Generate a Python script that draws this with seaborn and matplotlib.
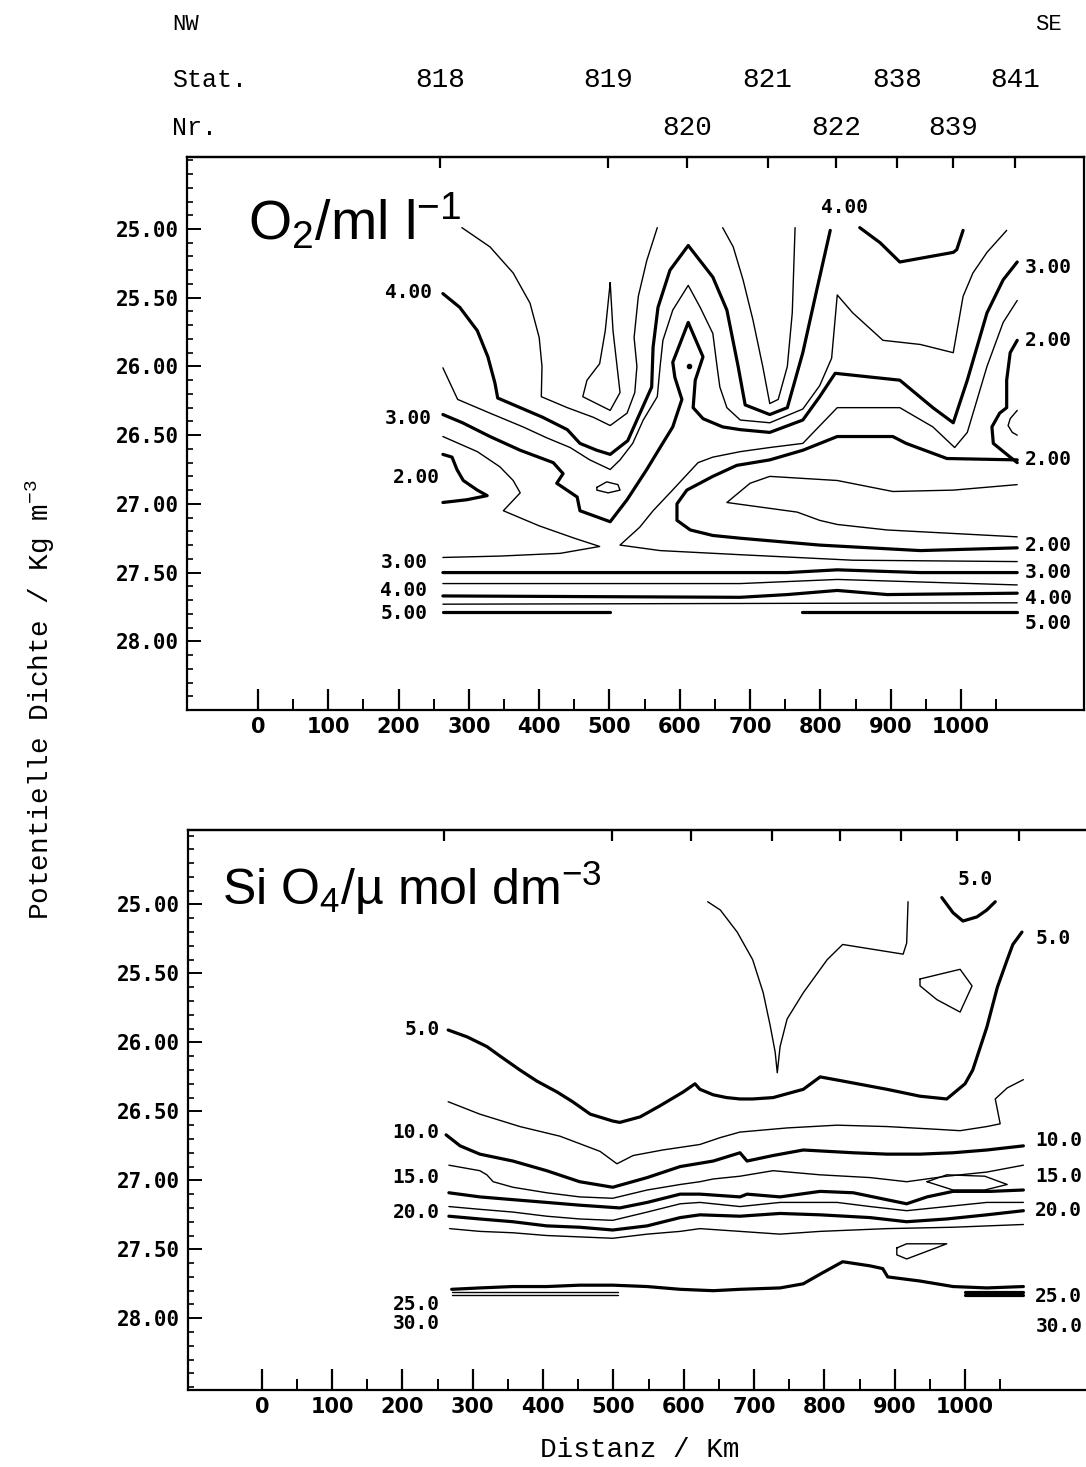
import matplotlib
matplotlib.use("Agg")
import matplotlib.pyplot as plt
import matplotlib.transforms as mtransforms
from matplotlib.ticker import MultipleLocator, FixedLocator
import seaborn as sns

sns.set_style("ticks")
plt.rcParams["font.family"] = ["DejaVu Sans"]
plt.rcParams["text.color"] = "black"
plt.rcParams["mathtext.fontset"] = "custom"
plt.rcParams["mathtext.rm"] = "Liberation Sans"
plt.rcParams["mathtext.default"] = "regular"

# stations along the section (km)
stat_km = [259, 498, 610, 725, 822, 909, 989, 1077]
stat_row = ["818", "819", "", "821", "", "838", "", "841"]
nr_row = ["", "", "820", "", "822", "", "839", ""]

x_ticks = [0, 100, 200, 300, 400, 500, 600, 700, 800, 900, 1000]
y_ticks = [25.0, 25.5, 26.0, 26.5, 27.0, 27.5, 28.0]

# ---- O2 section: contour lines (km, sigma) ----
o2_a_km = [290, 330, 363, 387, 400, 404, 403, 440, 477, 501, 525, 536, 539, 535, 541, 553, 568]
o2_a_sig = [24.99, 25.13, 25.32, 25.54, 25.79, 26.00, 26.22, 26.30, 26.37, 26.43, 26.34, 26.19, 26.00, 25.79, 25.49, 25.23, 24.99]

o2_4_km = [263, 287, 312, 327, 337, 341, 373, 405, 440, 458, 482, 501, 526, 539, 560, 562, 569, 586, 612,
           647, 667, 683, 693, 728, 753, 775, 795, 814]
o2_4_sig = [25.47, 25.57, 25.74, 25.93, 26.12, 26.23, 26.30, 26.37, 26.46, 26.56, 26.61, 26.64, 26.54, 26.39, 26.15,
            25.86, 25.57, 25.30, 25.12, 25.35, 25.59, 26.00, 26.28, 26.35, 26.30, 25.90, 25.44, 25.01]

o2_tri_km = [501, 505, 515, 501, 462, 468, 486, 494, 501]
o2_tri_sig = [25.39, 25.74, 26.19, 26.32, 26.22, 26.10, 25.98, 25.74, 25.39]

o2_v_km = [661, 676, 690, 704, 718, 728, 740, 753, 760, 764]
o2_v_sig = [24.99, 25.13, 25.37, 25.66, 26.00, 26.27, 26.24, 26.00, 25.61, 24.99]

o2_35_km = [263, 284, 330, 377, 411, 444, 472, 501, 515, 533, 548, 568, 572, 576, 590, 612, 629, 647, 653, 657,
            667, 686, 728, 775, 799, 816, 824, 846, 889, 942, 989, 1003, 1017, 1037, 1065]
o2_35_sig = [26.01, 26.24, 26.34, 26.44, 26.52, 26.59, 26.68, 26.75, 26.68, 26.56, 26.39, 26.22, 26.00, 25.81,
             25.59, 25.41, 25.57, 25.76, 26.00, 26.15, 26.30, 26.39, 26.41, 26.31, 26.14, 25.94, 25.48, 25.61,
             25.81, 25.84, 25.90, 25.49, 25.32, 25.17, 25.01]

o2_3_km = [263, 291, 330, 373, 420, 434, 425, 454, 458, 501, 525, 553, 572, 590, 603, 593, 590, 612, 633, 622,
           619, 633, 661, 686, 728, 775, 799, 821, 913, 960, 989, 1009, 1037, 1060, 1080]
o2_3_sig = [26.35, 26.41, 26.51, 26.61, 26.70, 26.78, 26.85, 26.95, 27.05, 27.13, 26.97, 26.75, 26.59, 26.44,
            26.24, 26.08, 25.97, 25.68, 25.93, 26.10, 26.30, 26.38, 26.44, 26.46, 26.48, 26.39, 26.22, 26.05,
            26.10, 26.30, 26.41, 26.10, 25.61, 25.37, 25.24]

# 2.50 line, right part (through the saddle near 600 km)
o2_25_km = [1080, 1060, 1037, 1009, 991, 960, 913, 824, 775, 728, 686, 647, 626, 586, 562, 543, 515, 572,
            686, 846, 1080]
o2_25_sig = [25.52, 25.68, 26.00, 26.48, 26.59, 26.44, 26.30, 26.30, 26.56, 26.59, 26.62, 26.66, 26.70, 26.92,
             27.05, 27.17, 27.30, 27.34, 27.37, 27.41, 27.42]

# 2.50 line, left part
o2_zig_km = [263, 312, 344, 363, 373, 349, 400, 450, 486, 430, 344, 263]
o2_zig_sig = [26.51, 26.62, 26.73, 26.83, 26.92, 27.05, 27.16, 27.25, 27.31, 27.36, 27.38, 27.39]

o2_2l_km = [263, 276, 283, 292, 312, 326, 297, 263]
o2_2l_sig = [26.64, 26.66, 26.75, 26.83, 26.90, 26.94, 26.97, 26.99]

o2_oval_km = [482, 496, 512, 515, 498, 482, 482]
o2_oval_sig = [26.88, 26.84, 26.86, 26.90, 26.92, 26.90, 26.88]

o2_2c_km = [1080, 980, 922, 903, 824, 775, 728, 681, 647, 610, 596, 596, 615, 647, 686, 799, 942, 1080]
o2_2c_sig = [26.68, 26.67, 26.56, 26.51, 26.51, 26.61, 26.68, 26.72, 26.80, 26.90, 27.00, 27.12, 27.19, 27.23,
             27.25, 27.30, 27.34, 27.32]

o2_lens_km = [1080, 989, 903, 824, 728, 700, 667, 767, 799, 824, 895, 1080]
o2_lens_sig = [26.86, 26.90, 26.91, 26.83, 26.80, 26.85, 26.99, 27.06, 27.12, 27.15, 27.19, 27.24]

o2_2r_km = [1080, 1070, 1065, 1065, 1055, 1044, 1046, 1070, 1080]
o2_2r_sig = [25.81, 25.90, 26.10, 26.30, 26.34, 26.44, 26.56, 26.66, 26.70]

o2_hook_km = [1080, 1070, 1067, 1073, 1080]
o2_hook_sig = [26.32, 26.38, 26.43, 26.48, 26.50]

o2_4top_km = [856, 885, 913, 989, 994, 1003]
o2_4top_sig = [24.99, 25.10, 25.24, 25.17, 25.15, 25.01]

o2_h2_km = [263, 486, 686, 753, 824, 942, 1080]
o2_h2_sig = [27.50, 27.50, 27.50, 27.50, 27.48, 27.50, 27.50]
o2_h3_km = [263, 686, 824, 1080]
o2_h3_sig = [27.58, 27.58, 27.55, 27.59]
o2_h4_km = [263, 686, 753, 824, 895, 1080]
o2_h4_sig = [27.67, 27.68, 27.66, 27.63, 27.66, 27.65]
o2_h5_km = [263, 1080]
o2_h5_sig = [27.73, 27.72]
o2_h6a_km = [263, 501]
o2_h6a_sig = [27.79, 27.79]
o2_h6b_km = [774, 824, 1080]
o2_h6b_sig = [27.79, 27.79, 27.79]

# ---- SiO4 section ----
si_5_km = [265, 292, 320, 339, 367, 391, 420, 442, 467, 499, 509, 538, 566, 599, 616, 623, 642, 661, 680,
           698, 727, 770, 794, 826, 889, 936, 974, 1000, 1011, 1031, 1046, 1060, 1068, 1081]
si_5_sig = [25.91, 25.96, 26.03, 26.10, 26.20, 26.28, 26.36, 26.43, 26.52, 26.57, 26.58, 26.54, 26.46, 26.36,
            26.30, 26.34, 26.38, 26.40, 26.41, 26.41, 26.40, 26.34, 26.25, 26.28, 26.34, 26.39, 26.41, 26.30,
            26.20, 25.89, 25.60, 25.40, 25.29, 25.20]

si_75_km = [265, 310, 367, 424, 481, 505, 528, 570, 623, 652, 680, 747, 818, 889, 960, 993, 1031, 1050,
            1043, 1060, 1083]
si_75_sig = [26.43, 26.52, 26.61, 26.68, 26.79, 26.88, 26.82, 26.78, 26.74, 26.69, 26.65, 26.62, 26.60, 26.61,
             26.63, 26.64, 26.61, 26.59, 26.41, 26.33, 26.27]

si_10_km = [262, 282, 310, 357, 405, 452, 499, 548, 595, 642, 680, 690, 727, 770, 841, 889, 936, 983, 1031, 1083]
si_10_sig = [26.67, 26.75, 26.81, 26.86, 26.93, 27.01, 27.05, 26.98, 26.90, 26.86, 26.80, 26.86, 26.82, 26.78,
             26.80, 26.81, 26.81, 26.80, 26.78, 26.75]

si_125_km = [266, 310, 320, 329, 357, 405, 452, 499, 548, 595, 623, 642, 680, 727, 794, 865, 917, 974, 1031, 1083]
si_125_sig = [26.89, 26.93, 26.96, 27.01, 27.05, 27.09, 27.12, 27.13, 27.07, 27.03, 27.01, 26.99, 26.97, 26.93,
              26.96, 26.98, 27.01, 26.97, 26.94, 26.89]

si_15_km = [266, 310, 357, 405, 452, 509, 548, 595, 623, 680, 690, 737, 794, 841, 917, 946, 983, 1036, 1083]
si_15_sig = [27.09, 27.12, 27.14, 27.16, 27.18, 27.20, 27.16, 27.10, 27.10, 27.12, 27.10, 27.12, 27.08, 27.09,
             27.17, 27.12, 27.08, 27.08, 27.07]

si_lens_km = [946, 974, 1028, 1060, 1028, 983, 946]
si_lens_sig = [27.01, 26.96, 26.97, 27.03, 27.07, 27.07, 27.01]

si_175_km = [266, 310, 357, 405, 452, 499, 548, 595, 623, 680, 737, 818, 865, 917, 974, 1031, 1083]
si_175_sig = [27.19, 27.21, 27.23, 27.26, 27.28, 27.29, 27.23, 27.17, 27.16, 27.19, 27.16, 27.16, 27.19, 27.22,
              27.19, 27.16, 27.16]

si_20_km = [266, 310, 357, 405, 452, 499, 548, 595, 623, 680, 737, 794, 865, 917, 974, 1031, 1083]
si_20_sig = [27.26, 27.28, 27.30, 27.33, 27.34, 27.36, 27.33, 27.27, 27.25, 27.26, 27.24, 27.25, 27.27, 27.30,
             27.28, 27.25, 27.22]

si_225_km = [267, 310, 357, 405, 452, 499, 548, 595, 623, 680, 737, 794, 889, 983, 1083]
si_225_sig = [27.35, 27.37, 27.38, 27.40, 27.41, 27.42, 27.39, 27.37, 27.35, 27.37, 27.39, 27.37, 27.35, 27.34,
              27.32]

si_blob_km = [903, 917, 974, 917, 903, 903]
si_blob_sig = [27.49, 27.46, 27.46, 27.57, 27.54, 27.49]

si_25_km = [270, 310, 357, 405, 452, 499, 548, 595, 642, 680, 737, 770, 794, 826, 865, 883, 890, 936, 983,
            1031, 1083]
si_25_sig = [27.79, 27.78, 27.77, 27.77, 27.76, 27.76, 27.77, 27.79, 27.80, 27.79, 27.78, 27.75, 27.68, 27.59,
             27.62, 27.64, 27.70, 27.73, 27.77, 27.78, 27.77]

si_30a_km = [270, 506]
si_30a_sig = [27.81, 27.81]
si_30b_km = [270, 506]
si_30b_sig = [27.83, 27.83]
si_30c_km = [1000, 1083]
si_30c_sig = [27.81, 27.81]
si_30d_km = [1000, 1083]
si_30d_sig = [27.83, 27.83]

si_cusp_km = [634, 652, 676, 698, 713, 723, 730, 733, 737, 747, 770, 804, 826, 912, 917, 919]
si_cusp_sig = [24.98, 25.04, 25.20, 25.40, 25.64, 25.88, 26.07, 26.22, 26.03, 25.83, 25.64, 25.40, 25.29, 25.36,
               25.28, 24.98]

si_5top_km = [967, 983, 997, 1017, 1031, 1043]
si_5top_sig = [24.95, 25.06, 25.12, 25.09, 25.04, 24.98]

si_pent_km = [936, 993, 1010, 993, 960, 936, 936]
si_pent_sig = [25.54, 25.47, 25.59, 25.78, 25.69, 25.59, 25.54]

THICK, THIN = 2.3, 1.0

o2_lines = [
    (o2_a_km, o2_a_sig, THIN), (o2_4_km, o2_4_sig, THICK), (o2_tri_km, o2_tri_sig, THIN),
    (o2_v_km, o2_v_sig, THIN), (o2_35_km, o2_35_sig, THIN), (o2_3_km, o2_3_sig, THICK),
    (o2_25_km, o2_25_sig, THIN), (o2_zig_km, o2_zig_sig, THIN), (o2_2l_km, o2_2l_sig, THICK),
    (o2_oval_km, o2_oval_sig, THIN), (o2_2c_km, o2_2c_sig, THICK), (o2_lens_km, o2_lens_sig, THIN),
    (o2_2r_km, o2_2r_sig, THICK), (o2_hook_km, o2_hook_sig, THIN), (o2_4top_km, o2_4top_sig, THICK),
    (o2_h2_km, o2_h2_sig, THICK), (o2_h3_km, o2_h3_sig, THIN),
    (o2_h4_km, o2_h4_sig, THICK), (o2_h5_km, o2_h5_sig, THIN), (o2_h6a_km, o2_h6a_sig, THICK),
    (o2_h6b_km, o2_h6b_sig, THICK),
]
si_lines = [
    (si_5_km, si_5_sig, THICK), (si_75_km, si_75_sig, THIN), (si_10_km, si_10_sig, THICK),
    (si_125_km, si_125_sig, THIN), (si_15_km, si_15_sig, THICK), (si_lens_km, si_lens_sig, THIN),
    (si_175_km, si_175_sig, THIN), (si_20_km, si_20_sig, THICK), (si_225_km, si_225_sig, THIN),
    (si_blob_km, si_blob_sig, THIN), (si_25_km, si_25_sig, THICK), (si_30a_km, si_30a_sig, THIN),
    (si_30b_km, si_30b_sig, THIN), (si_30c_km, si_30c_sig, THICK), (si_30d_km, si_30d_sig, THICK),
    (si_cusp_km, si_cusp_sig, THIN), (si_5top_km, si_5top_sig, THICK), (si_pent_km, si_pent_sig, THIN),
]

# label text, km, sigma, alignment
o2_labels = [("4.00", 247, 25.46, "right"), ("3.00", 247, 26.38, "right"), ("2.00", 259, 26.81, "right"),
             ("3.00", 241, 27.43, "right"), ("4.00", 241, 27.63, "right"), ("5.00", 241, 27.80, "right"),
             ("4.00", 835, 24.84, "center"), ("3.00", 1091, 25.28, "left"), ("2.00", 1091, 25.81, "left"),
             ("2.00", 1091, 26.68, "left"), ("2.00", 1091, 27.30, "left"), ("3.00", 1091, 27.50, "left"),
             ("4.00", 1091, 27.69, "left"), ("5.00", 1091, 27.87, "left")]
si_labels = [("5.0", 253, 25.91, "right"), ("10.0", 253, 26.65, "right"), ("15.0", 253, 26.98, "right"),
             ("20.0", 253, 27.23, "right"), ("25.0", 253, 27.90, "right"), ("30.0", 253, 28.04, "right"),
             ("5.0", 1014, 24.82, "center"), ("5.0", 1100, 25.25, "left"), ("10.0", 1100, 26.71, "left"),
             ("15.0", 1100, 26.97, "left"), ("20.0", 1100, 27.22, "left"), ("25.0", 1100, 27.84, "left"),
             ("30.0", 1100, 28.06, "left")]

W, H = 1086, 1467
fig = plt.figure(figsize=(W / 100, H / 100), dpi=100)
ax1 = fig.add_axes([187 / W, 1 - 710 / H, 897 / W, 553 / H])
ax2 = fig.add_axes([188 / W, 1 - 1390 / H, 905 / W, 560 / H])

mono = ["DejaVu Sans Mono"]
narrow = ["Liberation Sans Narrow", "DejaVu Sans"]
typew = ["Liberation Mono", "DejaVu Sans Mono"]


def setup(ax, xlim, ylim):
    ax.set_xlim(*xlim)
    ax.set_ylim(*ylim)
    ax.xaxis.set_major_locator(FixedLocator(x_ticks))
    ax.xaxis.set_minor_locator(FixedLocator([v + 50 for v in x_ticks]))
    ax.yaxis.set_major_locator(FixedLocator(y_ticks))
    ax.yaxis.set_minor_locator(MultipleLocator(0.1))
    ax.set_yticklabels([f"{v:.2f}" for v in y_ticks], family=mono, fontsize=15, weight="bold")
    ax.set_xticklabels([str(v) for v in x_ticks], family=narrow, fontsize=15, weight="bold")
    ax.tick_params(axis="x", which="major", direction="in", length=15, width=1.6, pad=5, colors="black")
    ax.tick_params(axis="x", which="minor", direction="in", length=8, width=1.4, colors="black")
    ax.tick_params(axis="y", which="major", direction="in", length=10, width=1.4, pad=6, colors="black")
    ax.tick_params(axis="y", which="minor", direction="in", length=4, width=1.2, colors="black")
    for s in ax.spines.values():
        s.set_linewidth(1.6)
        s.set_color("black")
    top = ax.secondary_xaxis("top")
    top.set_xticks(stat_km)
    top.set_xticklabels([])
    top.tick_params(direction="in", length=8, width=1.6, colors="black")
    top.spines["top"].set_linewidth(1.6)
    top.spines["top"].set_color("black")
    ax.set_xlabel("")
    ax.set_ylabel("")


def draw(ax, lines, labels):
    for xs, ys, lw in lines:
        sns.lineplot(x=xs, y=ys, sort=False, estimator=None, color="black", linewidth=lw, ax=ax)
    for txt, x, y, ha in labels:
        ax.text(x, y, txt, ha=ha, va="center", family=mono, fontsize=14, weight="bold")


draw(ax1, o2_lines, o2_labels)
ax1.plot([613], [26.0], marker="o", markersize=3, color="black")
draw(ax2, si_lines, si_labels)
setup(ax1, (-101, 1175), (28.50, 24.476))
setup(ax2, (-105, 1182), (28.52, 24.46))
ax2.spines["right"].set_visible(False)

ax1.text(0.068, 0.85, r"O$_2$/ml l$^{-1}$", transform=ax1.transAxes, fontsize=40,
         family=["Liberation Sans"], ha="left", va="baseline")
ax2.text(0.038, 0.866, r"Si O$_4$/µ mol dm$^{-3}$", transform=ax2.transAxes, fontsize=36,
         family=["Liberation Sans"], ha="left", va="baseline")

# header
blend = mtransforms.blended_transform_factory(ax1.transData, fig.transFigure)
fig.text(172 / W, 1 - 25 / H, "NW", family=typew, fontsize=16, va="center")
fig.text(1035 / W, 1 - 25 / H, "SE", family=typew, fontsize=16, va="center")
fig.text(172 / W, 1 - 80 / H, "Stat.", family=typew, fontsize=18, va="center")
fig.text(172 / W, 1 - 128 / H, "Nr.", family=typew, fontsize=18, va="center")
for km, s, n in zip(stat_km, stat_row, nr_row):
    if s:
        fig.text(km, 1 - 80 / H, s, transform=blend, family=typew, fontsize=20, ha="center", va="center")
    if n:
        fig.text(km, 1 - 128 / H, n, transform=blend, family=typew, fontsize=20, ha="center", va="center")

fig.text(40 / W, 1 - 700 / H, r"Potentielle Dichte / Kg m$^{-3}$", family=typew, fontsize=20,
         rotation=90, ha="center", va="center")
fig.text(640 / W, 1 - 1450 / H, "Distanz / Km", family=typew, fontsize=20, ha="center", va="center")

fig.savefig("out.png", dpi=100, facecolor="white")
